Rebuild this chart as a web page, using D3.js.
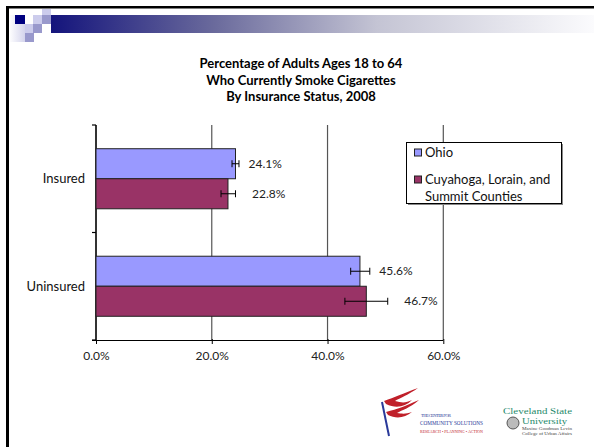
<!DOCTYPE html>
<html>
<head>
<meta charset="utf-8">
<script src="https://cdn.jsdelivr.net/npm/d3@7"></script>
<style>
  html, body { margin: 0; padding: 0; background: #fff; }
  svg { display: block; font-family: Lato, "DejaVu Sans", sans-serif; }
</style>
</head>
<body>
<svg id="chart" width="594" height="447"></svg>
<script>
// ---- data ----
const categories = ["Insured", "Uninsured"];
const seriesNames = ["Ohio", "Cuyahoga, Lorain, and Summit Counties"];
const ohioValues = [24.1, 45.6];
const countyValues = [22.8, 46.7];
const ohioErrLow = [23.5, 44.0];
const ohioErrHigh = [24.7, 47.3];
const countyErrLow = [21.6, 43.0];
const countyErrHigh = [24.1, 50.4];
const xTicks = [0, 20, 40, 60];
const titleLines = ["Percentage of Adults Ages 18 to 64", "Who Currently Smoke Cigarettes", "By Insurance Status, 2008"];

const seriesColors = ["#9999ff", "#993366"];
const seriesValues = [ohioValues, countyValues];
const seriesLow = [ohioErrLow, countyErrLow];
const seriesHigh = [ohioErrHigh, countyErrHigh];
const labelGap = [9.5, 16.5];

const svg = d3.select("#chart");

// ---- slide decoration ----
const defs = svg.append("defs");
const grad = defs.append("linearGradient").attr("id", "topbar").attr("x1", "0").attr("x2", "1");
grad.append("stop").attr("offset", "0").attr("stop-color", "#14147c");
grad.append("stop").attr("offset", "0.3").attr("stop-color", "#6a6a9c");
grad.append("stop").attr("offset", "0.6").attr("stop-color", "#c4c4d4");
grad.append("stop").attr("offset", "1").attr("stop-color", "#fbfbfd");
const lgrad = defs.append("linearGradient").attr("id", "leftfade").attr("x1", "0").attr("x2", "1");
lgrad.append("stop").attr("offset", "0").attr("stop-color", "#ffffff");
lgrad.append("stop").attr("offset", "1").attr("stop-color", "#d4d4ec");

svg.append("rect").attr("x", 51).attr("y", 15).attr("width", 543).attr("height", 18).attr("fill", "url(#topbar)");
svg.append("rect").attr("x", 9).attr("y", 15).attr("width", 16).attr("height", 27).attr("fill", "url(#leftfade)");
const squares = [
  [15, 15, "#000080"], [33, 15, "#ccccec"], [42, 9, "#ccccec"], [42, 15, "#9999cc"],
  [25, 24, "#ccccec"], [33, 24, "#9999cc"], [25, 33, "#9999cc"]
];
svg.selectAll("rect.sq").data(squares).enter().append("rect")
  .attr("class", "sq")
  .attr("x", d => d[0]).attr("y", d => d[1])
  .attr("width", d => d[1] === 9 ? 9 : (d[0] === 15 ? 10 : 9))
  .attr("height", d => d[1] === 9 ? 6 : 9)
  .attr("fill", d => d[2]);
svg.append("rect").attr("x", 6).attr("y", 6).attr("width", 588).attr("height", 2.5).attr("fill", "#000");
svg.append("rect").attr("x", 6).attr("y", 6).attr("width", 3).attr("height", 441).attr("fill", "#000");

// ---- title ----
svg.append("g").selectAll("text").data(titleLines).enter().append("text")
  .attr("x", 301).attr("y", (d, i) => 68 + i * 16.5)
  .attr("text-anchor", "middle")
  .attr("font-size", 13).attr("font-weight", "bold").attr("fill", "#000")
  .text(d => d);

// ---- chart ----
const plot = { left: 96, right: 443.3, top: 125, bottom: 340 };
const x = d3.scaleLinear().domain([0, 60]).range([plot.left, plot.right]);
const yBand = d3.scaleBand().domain(categories).range([plot.top, plot.bottom]).paddingInner(0).paddingOuter(0);
const inner = d3.scaleBand().domain(d3.range(seriesNames.length)).range([0, yBand.bandwidth()]).paddingOuter(0.79).paddingInner(0);

const g = svg.append("g");

// gridlines
g.selectAll("line.grid").data(xTicks.slice(1)).enter().append("line")
  .attr("x1", d => x(d)).attr("x2", d => x(d))
  .attr("y1", plot.top).attr("y2", plot.bottom)
  .attr("stroke", "#555").attr("stroke-width", 1.2);

// x axis
const xAxis = d3.axisBottom(x).tickValues(xTicks).tickFormat(d => d.toFixed(1) + "%").tickSize(4).tickSizeOuter(0);
const xg = g.append("g").attr("transform", `translate(0,${plot.bottom})`).call(xAxis);
xg.select(".domain").attr("stroke", "#000").attr("stroke-width", 1.2).attr("d", `M${plot.left - 4},0.5H${plot.right}`);
xg.selectAll(".tick line").attr("stroke", "#000").attr("y1", -1);
xg.selectAll(".tick text").attr("font-size", 12).attr("fill", "#222").attr("dy", "1.05em").attr("font-family", "Lato, sans-serif");

// y axis (category boundaries)
const yBounds = [plot.top, plot.top + yBand.bandwidth(), plot.bottom];
g.append("line").attr("x1", plot.left).attr("x2", plot.left).attr("y1", plot.top).attr("y2", plot.bottom)
  .attr("stroke", "#333").attr("stroke-width", 2);
g.selectAll("line.ytick").data(yBounds).enter().append("line")
  .attr("x1", plot.left - 4).attr("x2", plot.left).attr("y1", d => d).attr("y2", d => d)
  .attr("stroke", "#000").attr("stroke-width", 1.2);
g.selectAll("text.cat").data(categories).enter().append("text")
  .attr("x", 85).attr("y", d => yBand(d) + yBand.bandwidth() / 2 + 4.5)
  .attr("text-anchor", "end").attr("font-size", 13).attr("fill", "#111")
  .text(d => d);

// bars
seriesNames.forEach((name, si) => {
  const sg = g.append("g");
  sg.selectAll("rect").data(categories).enter().append("rect")
    .attr("x", plot.left)
    .attr("y", c => yBand(c) + inner(si))
    .attr("width", (c, ci) => x(seriesValues[si][ci]) - plot.left)
    .attr("height", inner.bandwidth())
    .attr("fill", seriesColors[si]).attr("stroke", "#222").attr("stroke-width", 1);
});

// error bars & labels
seriesNames.forEach((name, si) => {
  categories.forEach((c, ci) => {
    const cy = yBand(c) + inner(si) + inner.bandwidth() / 2;
    const lo = x(seriesLow[si][ci]), hi = x(seriesHigh[si][ci]);
    g.append("line").attr("x1", lo).attr("x2", hi).attr("y1", cy).attr("y2", cy).attr("stroke", "#000").attr("stroke-width", 1);
    [lo, hi].forEach(px => g.append("line").attr("x1", px).attr("x2", px).attr("y1", cy - 3.5).attr("y2", cy + 3.5).attr("stroke", "#000").attr("stroke-width", 1));
    g.append("text").attr("x", hi + labelGap[si]).attr("y", cy + 4)
      .attr("font-size", 12).attr("fill", "#222")
      .text(seriesValues[si][ci].toFixed(1) + "%");
  });
});

// legend
const lg = svg.append("g");
lg.append("rect").attr("x", 408).attr("y", 144).attr("width", 155).attr("height", 61).attr("fill", "#888");
lg.append("rect").attr("x", 406.5).attr("y", 142.5).attr("width", 155).attr("height", 61).attr("fill", "#fff").attr("stroke", "#000").attr("stroke-width", 1);
const legendRows = [[seriesNames[0]], ["Cuyahoga, Lorain, and", "Summit Counties"]];
const legendY = [152.5, 179.5];
legendRows.forEach((lines, i) => {
  lg.append("rect").attr("x", 414.5).attr("y", legendY[i] - 3.5).attr("width", 7).attr("height", 7)
    .attr("fill", seriesColors[i]).attr("stroke", "#222").attr("stroke-width", 1);
  lines.forEach((t, j) => {
    lg.append("text").attr("x", 425).attr("y", legendY[i] + 4.5 + j * 17).attr("font-size", 13).attr("fill", "#111").text(t);
  });
});

// ---- logos ----
const logo = svg.append("g").attr("font-family", "Liberation Serif, serif");
logo.append("line").attr("x1", 382).attr("y1", 402).attr("x2", 389).attr("y2", 436).attr("stroke", "#2a3a9a").attr("stroke-width", 2);
logo.append("path").attr("d", "M384,401 C395,397 402,394 418,388 C408,395 400,398 395,401 C402,403 406,403 412,400 C405,407 396,409 386,404 Z").attr("fill", "#c0202a");
logo.append("path").attr("d", "M386,412 C398,409 405,406 419,400 C410,408 402,410 397,413 C403,414 406,414 412,412 C405,418 396,419 388,415 Z").attr("fill", "#c0202a");
logo.append("text").attr("x", 421).attr("y", 417).attr("font-size", 4.5).attr("fill", "#2a3a9a").attr("textLength", 30).text("THE CENTER FOR");
logo.append("text").attr("x", 420).attr("y", 425).attr("font-size", 7).attr("fill", "#2a3a9a").attr("textLength", 63).attr("lengthAdjust", "spacingAndGlyphs").text("COMMUNITY SOLUTIONS");
logo.append("text").attr("x", 420).attr("y", 433).attr("font-size", 4).attr("fill", "#c0202a").attr("textLength", 63).attr("lengthAdjust", "spacingAndGlyphs").text("RESEARCH • PLANNING • ACTION");

logo.append("text").attr("x", 503).attr("y", 414).attr("font-size", 9).attr("fill", "#1e8a6a").attr("textLength", 69).attr("lengthAdjust", "spacingAndGlyphs").text("Cleveland State");
logo.append("text").attr("x", 522).attr("y", 424).attr("font-size", 8.5).attr("fill", "#1e8a6a").attr("textLength", 45).attr("lengthAdjust", "spacingAndGlyphs").text("University");
logo.append("circle").attr("cx", 513).attr("cy", 423).attr("r", 6).attr("fill", "#bbb").attr("stroke", "#555").attr("stroke-width", 1);
logo.append("text").attr("x", 522).attr("y", 430).attr("font-size", 4).attr("fill", "#444").attr("textLength", 50).attr("lengthAdjust", "spacingAndGlyphs").text("Maxine Goodman Levin");
logo.append("text").attr("x", 522).attr("y", 435).attr("font-size", 4).attr("fill", "#444").attr("textLength", 50).attr("lengthAdjust", "spacingAndGlyphs").text("College of Urban Affairs");
</script>
</body>
</html>
